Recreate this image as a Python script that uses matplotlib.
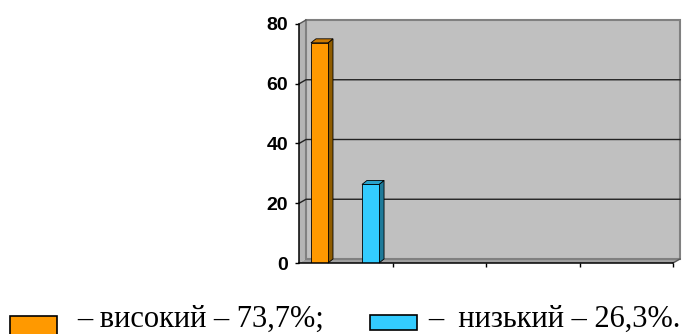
import matplotlib
matplotlib.use('Agg')
import matplotlib.pyplot as plt
from matplotlib.patches import Polygon, Rectangle

# levels and their shares, %
labels = ['високий', 'низький']
values = [73.7, 26.3]
colors = ['#FF9900', '#33CCFF']
side_colors = ['#8F5C00', '#1E7A99']
top_colors = ['#CC7A00', '#29A3CC']
ends = [';', '.']

y_ticks = [0, 20, 40, 60, 80]
n_cats = 4

W, H = 699, 334
fig = plt.figure(figsize=(W / 100, H / 100), dpi=100)
ax = fig.add_axes([299 / W, (H - 263) / H, 374 / W, 239 / H])
ax.set_xlim(0, n_cats)
ax.set_ylim(0, 80)

# pixel -> data scale for the fake 3d depth
px_x = n_cats / 374
px_y = 80 / 239
wdx, wdy = 7 * px_x, 4 * px_y   # wall depth
bdx, bdy = 5 * px_x, 4 * px_y   # bar depth

def poly(pts, fc, ec='none', lw=0.8, z=1):
    ax.add_patch(Polygon(pts, closed=True, facecolor=fc, edgecolor=ec,
                         linewidth=lw, zorder=z, clip_on=False))

# side wall and floor
poly([(0, 0), (wdx, wdy), (wdx, 80 + wdy), (0, 80)], '#b4b4b4', z=1)
poly([(0, 0), (n_cats, 0), (n_cats + wdx, wdy), (wdx, wdy)], '#a0a0a0', z=1)
# back wall
poly([(wdx, wdy), (n_cats + wdx, wdy), (n_cats + wdx, 80 + wdy), (wdx, 80 + wdy)],
     '#c0c0c0', ec='#808080', lw=1.5, z=1.5)

# gridlines on back and side walls
for t in y_ticks[1:-1]:
    ax.plot([0, wdx, n_cats + wdx], [t, t + wdy, t + wdy], color='#222222',
            lw=1.0, zorder=2, clip_on=False)
ax.plot([0, wdx], [80, 80 + wdy], color='#555555', lw=1.0, zorder=2, clip_on=False)
ax.plot([n_cats, n_cats + wdx], [0, wdy], color='#555555', lw=1.0, zorder=2, clip_on=False)

# 3d bars
xs = [0.128, 0.674]
bw = 0.182
for x, v, c, sc, tc in zip(xs, values, colors, side_colors, top_colors):
    poly([(x + bw, 0), (x + bw + bdx, bdy), (x + bw + bdx, v + bdy), (x + bw, v)],
         sc, ec='black', lw=0.6, z=3)
    poly([(x, v), (x + bw, v), (x + bw + bdx, v + bdy), (x + bdx, v + bdy)],
         tc, ec='black', lw=0.6, z=3)
    ax.add_patch(Rectangle((x, 0), bw, v, facecolor=c, edgecolor='black',
                           linewidth=0.6, zorder=3))

ax.set_facecolor('none')
for s in ['top', 'right']:
    ax.spines[s].set_visible(False)
for s in ['left', 'bottom']:
    ax.spines[s].set_color('black')
    ax.spines[s].set_linewidth(1.1)
    ax.spines[s].set_zorder(4)

ax.set_yticks(y_ticks)
ax.set_yticklabels([str(t) for t in y_ticks], fontfamily='Liberation Sans',
                   fontweight='bold', fontsize=14)
ax.set_xticks(range(1, n_cats + 1))
ax.set_xticklabels([])
ax.tick_params(axis='both', direction='out', length=3, width=1, color='black')
ax.tick_params(axis='y', pad=5)

# legend line under the chart
box_x = [10, 370]
box_top = [316, 315]
box_h = [22, 15]
text_x = [77, 428]
for i, (lab, v) in enumerate(zip(labels, values)):
    fig.patches.append(Rectangle((box_x[i] / W, (H - box_top[i] - box_h[i]) / H),
                                 47 / W, box_h[i] / H,
                                 transform=fig.transFigure, facecolor=colors[i],
                                 edgecolor='black', linewidth=1.2))
    gap = ' ' if i == 0 else '  '
    txt = f'–{gap}{lab} – {v:.1f}%{ends[i]}'.replace('.', ',', 1)
    fig.text(text_x[i] / W, (H - 327) / H, txt, family='Liberation Serif',
             fontsize=22, va='baseline', ha='left')

fig.savefig('out.png', dpi=100)
